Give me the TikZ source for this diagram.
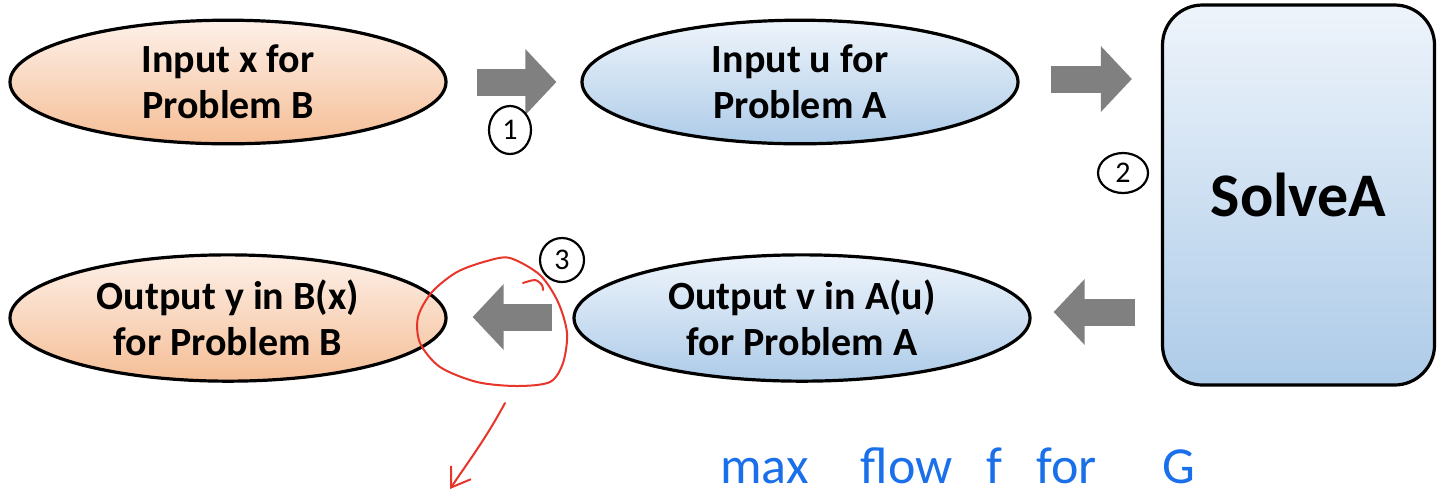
\documentclass[tikz,border=0pt]{standalone}
\usepackage{fontspec}
\setmainfont{Carlito}
\usepackage{tikz}
\usetikzlibrary{shapes.geometric,arrows.meta,calc}

\definecolor{orangetop}{HTML}{FDF0E8}
\definecolor{orangebot}{HTML}{F5BE96}
\definecolor{bluetop}{HTML}{EEF4FB}
\definecolor{bluebot}{HTML}{ADCBE8}
\definecolor{arrgray}{HTML}{808080}
\definecolor{penred}{HTML}{E8352A}
\definecolor{penblue}{HTML}{1A6FEA}

\tikzset{
    probB/.style={ellipse,draw=black,line width=1.6pt,top color=orangetop,bottom color=orangebot,
        minimum width=218pt,minimum height=55pt,align=center,font=\fontsize{20pt}{23pt}\selectfont\bfseries},
    probA/.style={probB,top color=bluetop,bottom color=bluebot},
    solver/.style={rectangle,rounded corners=20pt,draw=black,line width=1.6pt,top color=bluetop,bottom color=bluebot,
        minimum width=136pt,minimum height=190pt,font=\fontsize{31pt}{36pt}\selectfont\bfseries},
    blockarr/.style={draw=arrgray,line width=13.5pt,-{Triangle[length=15.5pt,width=32pt]}},
    numcirc/.style={ellipse,draw=black,line width=1.1pt,inner sep=0pt,font=\fontsize{15pt}{15pt}\selectfont},
    scribble/.style={penred,line width=1pt,line cap=round,line join=round}
}

\begin{document}
\begin{tikzpicture}[x=0.5pt,y=-0.5pt]
        \useasboundingbox (0,0) rectangle (1443,495);

        \node[probB] (inB) at (228,82) {Input x for\\Problem B};
        \node[probA] (inA) at (800,82) {Input u for\\Problem A};
        \node[solver] (solve) at (1298.5,195) {SolveA};
        \node[probA,minimum width=228pt] (outA) at (802,318) {Output v in A(u)\\for Problem A};
        \node[probB,minimum height=56pt] (outB) at (228,318) {Output y in B(x)\\for Problem B};

        % block arrows between the boxes
        \draw[blockarr] ($(inB.east)+(29,0)$) -- ($(inA.west)+(-24,0)$);
        \draw[blockarr] ($(inA.east)+(31,-3)$) -- ($(inA.east -| solve.west)+(-29,-3)$);
        \draw[blockarr] ($(outA.east -| solve.west)+(-26,-6)$) -- ($(outA.east)+(22,-6)$);
        \draw[blockarr] ($(outA.west)+(-20,-1)$) -- ($(outB.east)+(25,-1)$);

        % handwritten step numbers
        \node[numcirc,minimum width=21pt,minimum height=24pt] (n1) at (510,130) {1};
        \node[numcirc,minimum width=25pt,minimum height=20pt] (n2) at (1123,173) {2};
        \node[numcirc,minimum width=22pt,minimum height=22pt] (n3) at (562,260) {3};

        % red loop round the last arrow
        \draw[scribble] plot[smooth cycle] coordinates {(510,258) (540,275) (558,302) (567,333) (563,363)
            (550,382) (517,386) (477,382) (440,367) (420,343) (418,317) (432,292) (457,272) (487,261)};
        \draw[scribble] plot[smooth] coordinates {(523,283) (535,280) (542,285) (543,290)};
        \coordinate (redtail) at (505,403);
        \coordinate (redtip) at (450,489);
        \draw[scribble,-{Straight Barb[length=9pt,width=12pt]}] (redtail) .. controls (485,440) and (468,462) .. (redtip);

        \node[text=penblue,font=\fontsize{26pt}{26pt}\selectfont,anchor=base west,inner sep=0pt] (flow) at (720,483)
            {max\hspace{26pt}flow\hspace{17pt}f\hspace{17pt}for\hspace{33pt}G};
\end{tikzpicture}
\end{document}
